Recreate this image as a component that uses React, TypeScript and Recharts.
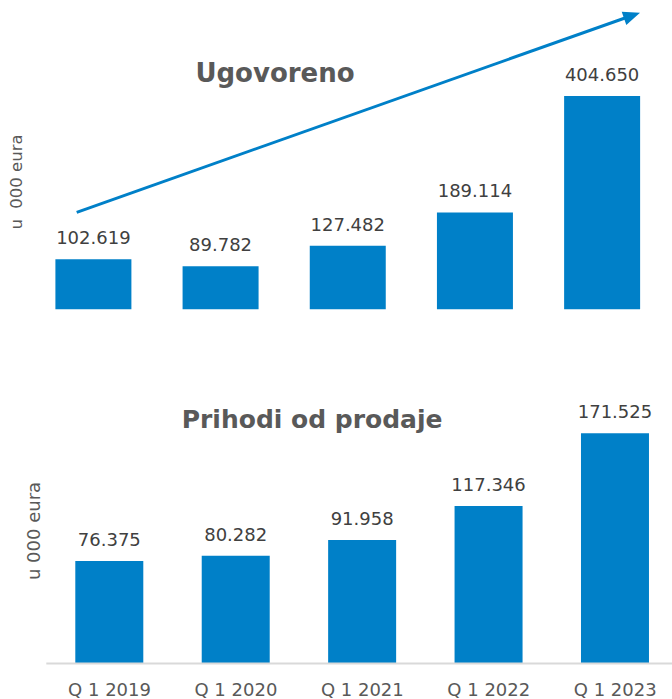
import React from 'react';
import { BarChart, Bar, XAxis, YAxis, LabelList } from 'recharts';

const categories = ['Q 1 2019', 'Q 1 2020', 'Q 1 2021', 'Q 1 2022', 'Q 1 2023'];
const ugovoreno = [102619, 89782, 127482, 189114, 404650];
const prihodi = [76375, 80282, 91958, 117346, 171525];
const yLabelTop = 'u  000 eura';
const yLabel = 'u 000 eura';
const title1 = 'Ugovoreno';
const title2 = 'Prihodi od prodaje';

const topData = categories.map((name, i) => ({ name, value: ugovoreno[i] }));
const bottomData = categories.map((name, i) => ({ name, value: prihodi[i] }));

const BLUE = '#0080C8';
const FONT = '"DejaVu Sans", Verdana, sans-serif';

const fmt = (v: any) => String(v).replace(/\B(?=(\d{3})+(?!\d))/g, '.');

export default function App() {
  return (
    <div
      style={{
        position: 'absolute',
        left: 0,
        top: 0,
        width: 672,
        height: 699,
        overflow: 'hidden',
        background: '#ffffff',
        fontFamily: FONT,
      }}
    >
      <div style={{ position: 'absolute', left: 0, top: 0 }}>
        <BarChart
          width={672}
          height={330}
          data={topData}
          margin={{ top: 71.4, right: 6.7, bottom: 20.7, left: 29.4 }}
        >
          <XAxis dataKey="name" hide />
          <YAxis hide type="number" domain={[10000, 450000]} />
          <Bar dataKey="value" fill={BLUE} barSize={76} isAnimationActive={false}>
            <LabelList
              dataKey="value"
              position="top"
              offset={15}
              formatter={fmt}
              fill="#404040"
              fontSize={18}
              fontFamily={FONT}
            />
          </Bar>
        </BarChart>
      </div>
      <div style={{ position: 'absolute', left: 0, top: 350 }}>
        <BarChart
          width={680}
          height={349}
          data={bottomData}
          margin={{ top: 71.9, right: 1.6, bottom: 5.5, left: 46.3 }}
        >
          <XAxis
            dataKey="name"
            height={30}
            interval={0}
            tickLine={false}
            tickSize={0}
            tickMargin={20}
            axisLine={{ stroke: '#d9d9d9', strokeWidth: 2 }}
            tick={{ fill: '#595959', fontSize: 18, fontFamily: FONT }}
          />
          <YAxis hide type="number" domain={[0, 180000]} />
          <Bar dataKey="value" fill={BLUE} barSize={68} isAnimationActive={false}>
            <LabelList
              dataKey="value"
              position="top"
              offset={15}
              formatter={fmt}
              fill="#404040"
              fontSize={18}
              fontFamily={FONT}
            />
          </Bar>
        </BarChart>
      </div>
      <svg
        width={672}
        height={699}
        style={{ position: 'absolute', left: 0, top: 0, pointerEvents: 'none' }}
      >
        <line x1={76.7} y1={212.3} x2={625} y2={18} stroke={BLUE} strokeWidth={3} />
        <polygon points="640,12.7 626.3,25 621.7,11.8" fill={BLUE} />
        <text
          x={275}
          y={82.3}
          textAnchor="middle"
          fontSize={26}
          fontWeight="bold"
          fill="#595959"
          fontFamily={FONT}
        >
          {title1}
        </text>
        <text
          x={181.7}
          y={428.3}
          textAnchor="start"
          fontSize={25}
          fontWeight="bold"
          fill="#595959"
          fontFamily={FONT}
        >
          {title2}
        </text>
        <text
          x={22}
          y={182}
          textAnchor="middle"
          fontSize={16.5}
          fill="#595959"
          fontFamily={FONT}
          style={{ whiteSpace: 'pre' }}
          transform="rotate(-90 22 182)"
        >
          {yLabelTop}
        </text>
        <text
          x={40}
          y={531}
          textAnchor="middle"
          fontSize={18}
          fill="#595959"
          fontFamily={FONT}
          transform="rotate(-90 40 531)"
        >
          {yLabel}
        </text>
      </svg>
    </div>
  );
}
